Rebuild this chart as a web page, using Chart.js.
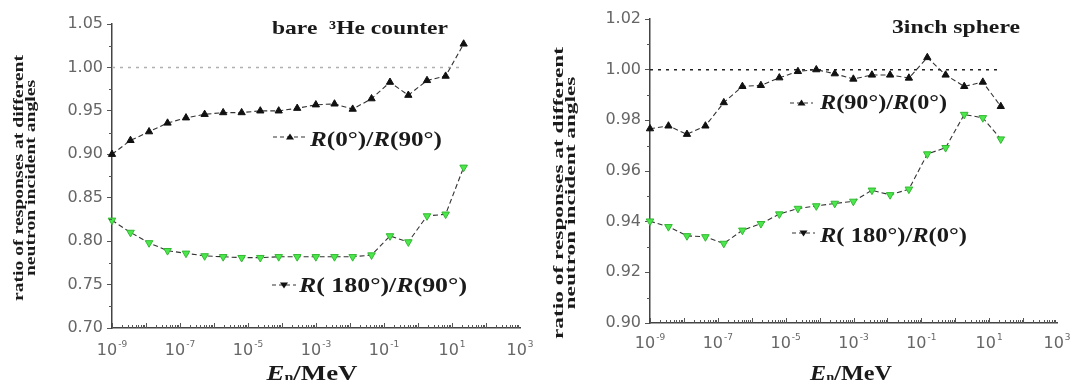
<!DOCTYPE html>
<html>
<head>
<meta charset="utf-8">
<script src="https://cdn.jsdelivr.net/npm/chart.js@4.4.1/dist/chart.umd.min.js"></script>
<style>
  body { margin: 0; background: #fff; }
  #wrap { position: relative; width: 1072px; height: 380px; }
  canvas { position: absolute; top: 0; }
</style>
</head>
<body>
<div id="wrap">
  <canvas id="bareChart" width="536" height="380" style="left:0"></canvas>
  <canvas id="sphereChart" width="536" height="380" style="left:536px"></canvas>
</div>
<script>
// neutron energy in MeV (same points in both panels)
const energy = [1e-9, 3.5e-9, 1.23e-8, 4.3e-8, 1.5e-7, 5.3e-7, 1.86e-6, 6.5e-6, 2.3e-5, 8e-5,
                2.8e-4, 9.9e-4, 3.5e-3, 1.2e-2, 4.3e-2, 0.15, 0.52, 1.84, 6.5, 22];

// bare 3He counter
const bareR0over90 = [0.900, 0.916, 0.926, 0.936, 0.942, 0.946, 0.948, 0.948, 0.950, 0.950,
                      0.953, 0.957, 0.958, 0.952, 0.964, 0.983, 0.968, 0.985, 0.990, 1.027];
const bareR180over90 = [0.824, 0.810, 0.798, 0.789, 0.786, 0.783, 0.782, 0.781, 0.781, 0.782,
                        0.782, 0.782, 0.782, 0.782, 0.784, 0.806, 0.799, 0.829, 0.831, 0.885];

// 3 inch sphere
const sphereR90over0 = [0.9767, 0.9778, 0.9745, 0.9778, 0.9870, 0.9934, 0.9938, 0.9968, 0.9993, 1.0000,
                        0.9984, 0.9963, 0.9979, 0.9979, 0.9967, 1.0048, 0.9979, 0.9934, 0.9951, 0.9855];
const sphereR180over0 = [0.9402, 0.9380, 0.9344, 0.9340, 0.9314, 0.9366, 0.9392, 0.9430, 0.9452, 0.9462,
                         0.9472, 0.9480, 0.9524, 0.9506, 0.9528, 0.9667, 0.9692, 0.9823, 0.9810, 0.9726];

const bareYTicks = [0.70, 0.75, 0.80, 0.85, 0.90, 0.95, 1.00, 1.05];
const sphereYTicks = [0.90, 0.92, 0.94, 0.96, 0.98, 1.00, 1.02];
const xTickExps = [-9, -7, -5, -3, -1, 1, 3];
const refLevel = 1.0;

const yTitleLines = ['ratio of responses at different', 'neutron incident angles'];
const SERIF = '"Liberation Serif", "Times New Roman", serif';
const SANS = '"DejaVu Sans", sans-serif';

function drawRich(ctx, text, x, y, size, width) {
  const runs = text.split(/(R)/).filter(s => s).map(s => ({ t: s, italic: s === 'R' }));
  let total = 0;
  runs.forEach(r => {
    ctx.font = (r.italic ? 'italic ' : '') + 'bold ' + size + 'px ' + SERIF;
    r.w = ctx.measureText(r.t).width;
    total += r.w;
  });
  ctx.save();
  ctx.translate(x, y);
  ctx.scale(width ? width / total : 1, 1);
  let cx = 0;
  runs.forEach(r => {
    ctx.font = (r.italic ? 'italic ' : '') + 'bold ' + size + 'px ' + SERIF;
    ctx.fillText(r.t, cx, 0);
    cx += r.w;
  });
  ctx.restore();
}

function drawMarker(ctx, x0, x1, y, down) {
  ctx.save();
  ctx.strokeStyle = '#333';
  ctx.lineWidth = 1.2;
  ctx.setLineDash([4, 3]);
  ctx.beginPath(); ctx.moveTo(x0, y); ctx.lineTo(x1, y); ctx.stroke();
  ctx.setLineDash([]);
  const cx = (x0 + x1) / 2, r = 4;
  ctx.fillStyle = '#111';
  ctx.beginPath();
  if (down) {
    ctx.moveTo(cx - r, y - r * 0.6); ctx.lineTo(cx + r, y - r * 0.6); ctx.lineTo(cx, y + r * 0.9);
  } else {
    ctx.moveTo(cx - r, y + r * 0.6); ctx.lineTo(cx + r, y + r * 0.6); ctx.lineTo(cx, y - r * 0.9);
  }
  ctx.closePath();
  ctx.fill();
  ctx.restore();
}

const decor = {
  id: 'decor',
  afterDraw(chart, args, o) {
    const ctx = chart.ctx;
    const xs = chart.scales.x, ys = chart.scales.y;
    const a = chart.chartArea;
    ctx.save();

    // minor y ticks (outward)
    ctx.strokeStyle = '#555';
    ctx.lineWidth = 1;
    for (let i = 0; i < o.yTicks.length - 1; i++) {
      const y = Math.round(ys.getPixelForValue((o.yTicks[i] + o.yTicks[i + 1]) / 2)) + 0.5;
      ctx.beginPath(); ctx.moveTo(a.left - 3, y); ctx.lineTo(a.left, y); ctx.stroke();
    }
    // log x ticks (inward)
    for (let e = xTickExps[0]; e < xTickExps[xTickExps.length - 1]; e++) {
      for (let m = 1; m < 10; m++) {
        const x = Math.round(xs.getPixelForValue(m * Math.pow(10, e))) + 0.5;
        const len = m === 1 ? 5 : 3;
        ctx.beginPath(); ctx.moveTo(x, a.bottom); ctx.lineTo(x, a.bottom - len); ctx.stroke();
      }
    }

    // x tick labels 10^n
    ctx.fillStyle = '#666';
    ctx.textBaseline = 'alphabetic';
    xTickExps.forEach(e => {
      const x = xs.getPixelForValue(Math.pow(10, e));
      ctx.font = '16px ' + SANS;
      const w1 = ctx.measureText('10').width;
      ctx.font = '9px ' + SANS;
      const w2 = ctx.measureText(String(e)).width;
      const start = x - (w1 + w2 + 1) / 2;
      ctx.font = '16px ' + SANS;
      ctx.fillText('10', start, a.bottom + o.xLabelOffset);
      ctx.font = '9px ' + SANS;
      ctx.fillText(String(e), start + w1 + 1, a.bottom + o.xLabelOffset - 8);
    });

    // panel title
    ctx.fillStyle = '#1a1a1a';
    ctx.font = 'bold 19px ' + SERIF;
    const tw = ctx.measureText(o.title.text).width;
    ctx.save();
    ctx.translate(o.title.x, o.title.y);
    ctx.scale(o.title.width / tw, 1);
    ctx.fillText(o.title.text, 0, 0);
    ctx.restore();

    // in-plot series labels
    o.notes.forEach(n => {
      drawMarker(ctx, n.m0, n.m1, n.my, n.down);
      ctx.fillStyle = '#1a1a1a';
      drawRich(ctx, n.text, n.x, n.y, 20, n.width);
    });

    // x axis title  E_n/MeV
    const parts = [
      { t: 'E', font: 'italic bold 20px ' + SERIF, dy: 0 },
      { t: 'n', font: 'bold 12px ' + SERIF, dy: 1 },
      { t: '/MeV', font: 'bold 20px ' + SERIF, dy: 0 }
    ];
    let total = 0;
    parts.forEach(p => { ctx.font = p.font; p.w = ctx.measureText(p.t).width; total += p.w; });
    ctx.save();
    ctx.translate(o.xTitle.cx - o.xTitle.width / 2, o.xTitle.y);
    ctx.scale(o.xTitle.width / total, 1);
    let cx = 0;
    parts.forEach(p => { ctx.font = p.font; ctx.fillText(p.t, cx, p.dy); cx += p.w; });
    ctx.restore();

    // y axis title, two rotated lines
    ctx.font = 'bold 15px ' + SERIF;
    const sx = o.yTitle.len / ctx.measureText(yTitleLines[0]).width;
    yTitleLines.forEach((line, i) => {
      ctx.save();
      ctx.translate(o.yTitle.xs[i], o.yTitle.cy);
      ctx.rotate(-Math.PI / 2);
      ctx.scale(sx, 1);
      ctx.textAlign = 'center';
      ctx.textBaseline = 'middle';
      ctx.fillText(line, 0, 0);
      ctx.restore();
    });

    ctx.restore();
  }
};

function makeChart(id, p) {
  const pts = vals => energy.map((e, i) => ({ x: e, y: vals[i] }));
  return new Chart(document.getElementById(id), {
    type: 'scatter',
    data: {
      datasets: [
        {
          data: pts(p.upper), showLine: true, clip: false,
          borderColor: '#333', borderWidth: 1.1, borderDash: [5, 3],
          pointStyle: 'triangle', pointRadius: 4.2,
          pointBackgroundColor: '#111', pointBorderColor: '#111', pointBorderWidth: 1
        },
        {
          data: pts(p.lower), showLine: true, clip: false,
          borderColor: '#333', borderWidth: 1.1, borderDash: [5, 3],
          pointStyle: 'triangle', pointRotation: 180, pointRadius: 4.4,
          pointBackgroundColor: '#4be84b', pointBorderColor: '#34b834', pointBorderWidth: 1
        },
        {
          data: [{ x: energy[0], y: refLevel }, { x: energy[energy.length - 1], y: refLevel }],
          showLine: true, clip: false, pointRadius: 0,
          borderColor: p.refColor, borderWidth: 1.5, borderDash: [3, 5]
        }
      ]
    },
    options: {
      responsive: false,
      devicePixelRatio: 1,
      animation: false,
      layout: { padding: { top: p.area.top, right: 536 - p.area.right, left: 0, bottom: 0 } },
      plugins: {
        legend: { display: false },
        tooltip: { enabled: false },
        decor: p.decor
      },
      scales: {
        x: {
          type: 'logarithmic',
          min: Math.pow(10, xTickExps[0]),
          max: Math.pow(10, xTickExps[xTickExps.length - 1]),
          ticks: { display: false },
          grid: { display: false },
          border: { display: true, color: '#444', width: 1.5 },
          afterFit: s => { s.height = 380 - p.area.bottom; }
        },
        y: {
          min: p.yTicks[0],
          max: p.yTicks[p.yTicks.length - 1],
          afterBuildTicks: s => { s.ticks = p.yTicks.map(v => ({ value: v })); },
          ticks: {
            callback: v => v.toFixed(2),
            color: '#666',
            font: { family: SANS, size: 16 },
            padding: 4
          },
          grid: { display: true, drawOnChartArea: false, drawTicks: true, tickLength: 5, color: '#555', lineWidth: 1 },
          border: { display: true, color: '#444', width: 1.5 },
          afterFit: s => { s.width = p.area.left; }
        }
      }
    },
    plugins: [decor]
  });
}

makeChart('bareChart', {
  upper: bareR0over90,
  lower: bareR180over90,
  yTicks: bareYTicks,
  refColor: '#b0b0b0',
  area: { left: 112, right: 520, top: 24, bottom: 328 },
  decor: {
    yTicks: bareYTicks,
    xLabelOffset: 27,
    title: { text: 'bare  \u00b3He counter', x: 272, y: 34, width: 176 },
    notes: [
      { m0: 273, m1: 307, my: 137, down: false, text: 'R(0\u00b0)/R(90\u00b0)', x: 310, y: 146, width: 132 },
      { m0: 272, m1: 296, my: 285, down: true, text: 'R( 180\u00b0)/R(90\u00b0)', x: 299, y: 292, width: 168 }
    ],
    xTitle: { cx: 312, y: 380, width: 91 },
    yTitle: { xs: [19.5, 31], cy: 178, len: 246 }
  }
});

makeChart('sphereChart', {
  upper: sphereR90over0,
  lower: sphereR180over0,
  yTicks: sphereYTicks,
  refColor: '#222',
  area: { left: 114, right: 521, top: 19, bottom: 323 },
  decor: {
    yTicks: sphereYTicks,
    xLabelOffset: 25,
    title: { text: '3inch sphere', x: 356, y: 33, width: 128 },
    notes: [
      { m0: 254, m1: 277, my: 103, down: false, text: 'R(90\u00b0)/R(0\u00b0)', x: 284, y: 109, width: 127 },
      { m0: 256, m1: 279, my: 233, down: true, text: 'R( 180\u00b0)/R(0\u00b0)', x: 284, y: 242, width: 147 }
    ],
    xTitle: { cx: 315, y: 380, width: 82 },
    yTitle: { xs: [23.5, 35.5], cy: 193, len: 292 }
  }
});
</script>
</body>
</html>
